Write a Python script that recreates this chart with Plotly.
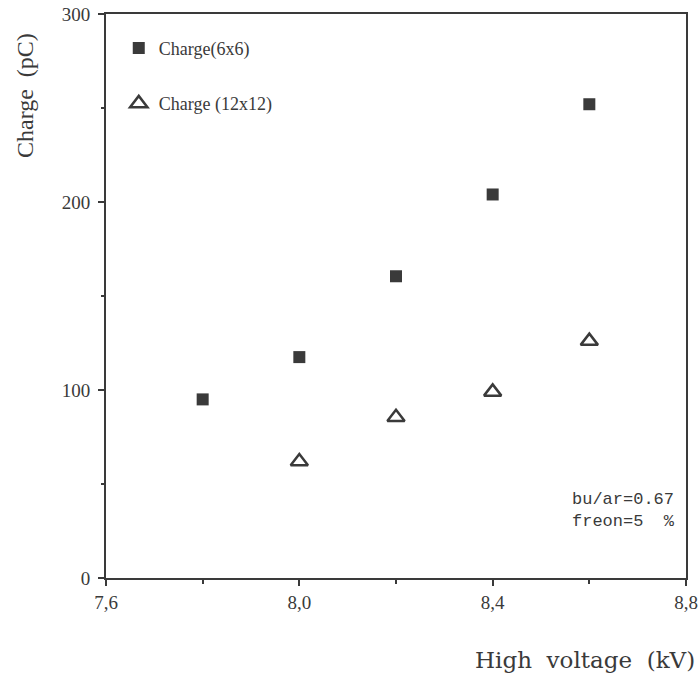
import plotly.graph_objects as go

# Data
hv_6x6 = [7.8, 8.0, 8.2, 8.4, 8.6]
charge_6x6 = [95, 117.5, 160.5, 204, 252]
hv_12x12 = [8.0, 8.2, 8.4, 8.6]
charge_12x12 = [62, 85.5, 99, 126]

x_tickvals = [7.6, 8.0, 8.4, 8.8]
x_ticktext = ["7,6", "8,0", "8,4", "8,8"]
y_tickvals = [0, 100, 200, 300]
y_ticktext = ["0", "100", "200", "300"]

ink = "#3a3a3a"
serif = "Liberation Serif"

fig = go.Figure()
fig.add_trace(go.Scatter(
    x=hv_6x6, y=charge_6x6, mode="markers", name="Charge(6x6)",
    legendgroup="a",
    marker=dict(symbol="square", size=12, color=ink, line=dict(width=0)),
))
fig.add_trace(go.Scatter(
    x=hv_12x12, y=charge_12x12, mode="markers", name="Charge (12x12)",
    legendgroup="b",
    marker=dict(symbol="triangle-up-open", size=15, color=ink, line=dict(width=2.5, color=ink)),
))

axis_common = dict(
    showline=True, linecolor=ink, linewidth=2, mirror=True,
    showgrid=False, zeroline=False, automargin=False,
    ticks="outside", ticklen=6, tickwidth=2, tickcolor=ink,
    tickfont=dict(family=serif, size=19, color=ink),
)

fig.update_xaxes(
    range=[7.6, 8.8], tickvals=x_tickvals, ticktext=x_ticktext,
    minor=dict(tickvals=[7.8, 8.2, 8.6], ticks="outside", ticklen=4, tickwidth=2, tickcolor=ink),
    **axis_common,
)
fig.update_yaxes(
    range=[0, 300], tickvals=y_tickvals, ticktext=y_ticktext, ticklabelstandoff=4,
    minor=dict(tickvals=[50, 150, 250], ticks="outside", ticklen=3, tickwidth=2, tickcolor=ink),
    **axis_common,
)

fig.update_layout(
    width=700, height=679,
    margin=dict(l=106, r=14, t=14, b=101, autoexpand=False),
    paper_bgcolor="white", plot_bgcolor="white",
    showlegend=True,
    legend=dict(
        x=0.022, y=0.972, xanchor="left", yanchor="top",
        bgcolor="rgba(0,0,0,0)", borderwidth=0,
        font=dict(family=serif, size=18, color=ink),
        traceorder="grouped", tracegroupgap=29,
    ),
    annotations=[
        dict(text="Charge  (pC)", xref="paper", yref="paper", x=-0.14, y=0.856,
             xanchor="center", yanchor="middle", textangle=-90, showarrow=False,
             font=dict(family=serif, size=24, color=ink)),
        dict(text="High  voltage  (kV)", xref="paper", yref="paper", x=1.019, y=-0.145,
             xanchor="right", yanchor="middle", showarrow=False,
             font=dict(family="DejaVu Serif", size=23, color=ink)),
        dict(text="bu/ar=0.67<br>freon=5  %", xref="paper", yref="paper", x=0.8, y=0.12,
             xanchor="left", yanchor="middle", align="left", showarrow=False,
             font=dict(family="Liberation Mono", size=17, color=ink)),
    ],
)

fig.write_html("out.html")
